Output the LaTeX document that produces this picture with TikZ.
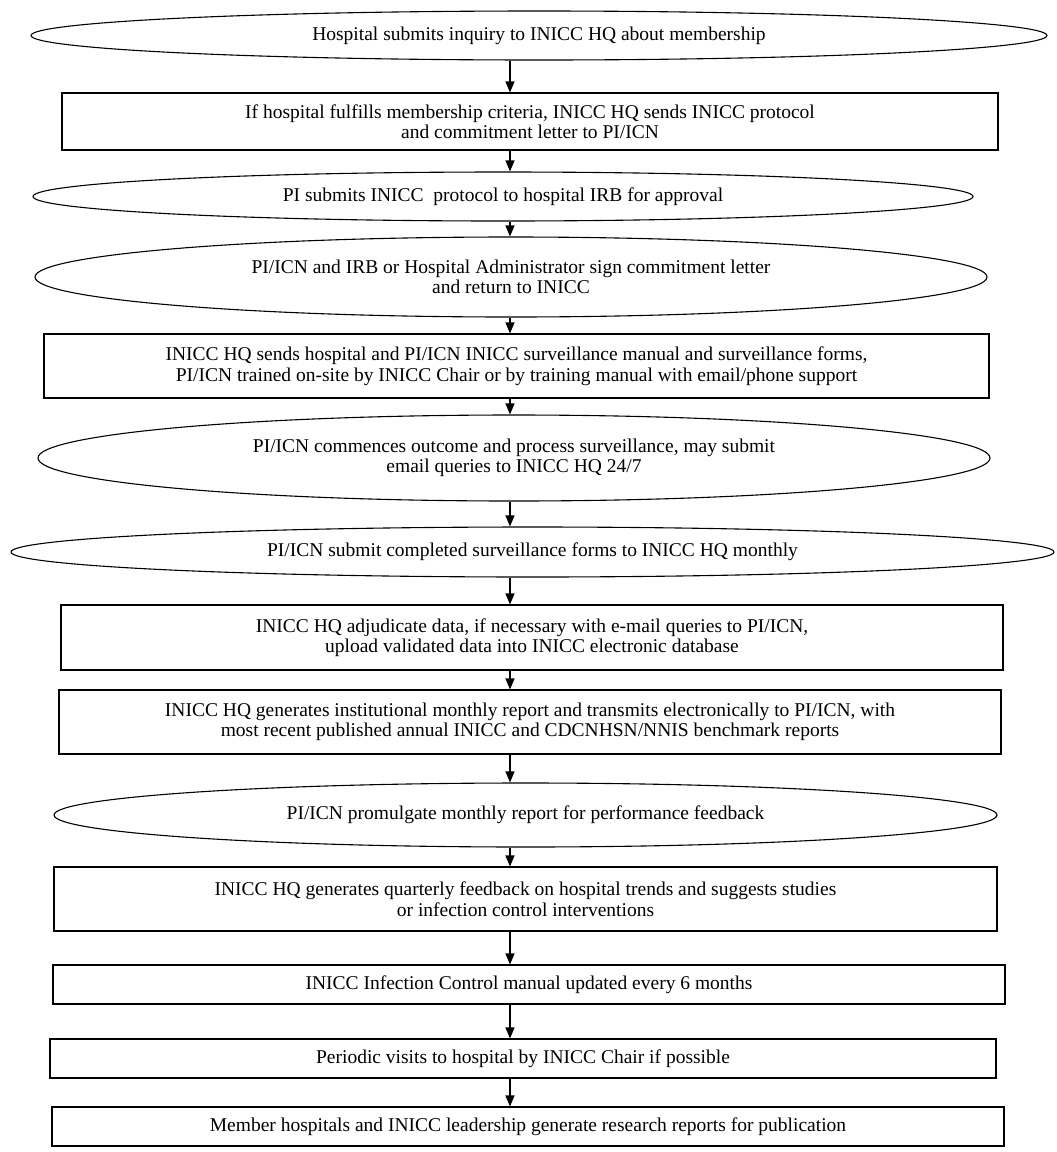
\documentclass[tikz,border=0pt]{standalone}
\usepackage{fontspec}
\setmainfont{Liberation Serif}
\usetikzlibrary{arrows.meta,shapes.geometric}

\tikzset{
  flowbox/.style={draw, rectangle, inner sep=0pt, align=center},
  flowoval/.style={draw, ellipse, inner sep=0pt, align=center},
  flowarrow/.style={-{Triangle[length=11pt,width=9pt]}}
}

\begin{document}
\begin{tikzpicture}[x=1pt, y=-1pt, line width=1.1pt,
  font=\fontsize{19.5}{20.5}\selectfont]
\useasboundingbox (0,0) rectangle (1057,1152);
\coordinate (ax) at (510,0);
\node[flowoval, minimum width=1016pt, minimum height=49pt] (S_1) at (539,35.5) {Hospital submits inquiry to INICC HQ about membership};
\node[flowbox, minimum width=936pt, minimum height=57pt] (S_2) at (530,121.5) {If hospital fulfills membership criteria, INICC HQ sends INICC protocol\\and commitment letter to PI/ICN};
\draw[flowarrow] (S_1.south -| ax) -- (S_2.north -| ax);
\node[flowoval, minimum width=940pt, minimum height=49pt] (S_3) at (503,196.5) {PI submits INICC\ \ protocol to hospital IRB for approval};
\draw[flowarrow] (S_2.south -| ax) -- (S_3.north -| ax);
\node[flowoval, minimum width=952pt, minimum height=80pt] (S_4) at (511,277) {PI/ICN and IRB or Hospital Administrator sign commitment letter\\and return to INICC};
\draw[flowarrow] (S_3.south -| ax) -- (S_4.north -| ax);
\node[flowbox, minimum width=945pt, minimum height=64pt] (S_5) at (516.5,366) {INICC HQ sends hospital and PI/ICN INICC surveillance manual and surveillance forms,\\PI/ICN trained on-site by INICC Chair or by training manual with email/phone support};
\draw[flowarrow] (S_4.south -| ax) -- (S_5.north -| ax);
\node[flowoval, minimum width=952pt, minimum height=86pt] (S_6) at (514,458) {PI/ICN commences outcome and process surveillance, may submit\\email queries to INICC HQ 24/7};
\draw[flowarrow] (S_5.south -| ax) -- (S_6.north -| ax);
\node[flowoval, minimum width=1043pt, minimum height=50pt] (S_7) at (532.5,552) {PI/ICN submit completed surveillance forms to INICC HQ monthly};
\draw[flowarrow] (S_6.south -| ax) -- (S_7.north -| ax);
\node[flowbox, minimum width=942pt, minimum height=65pt] (S_8) at (532,637.5) {INICC HQ adjudicate data, if necessary with e-mail queries to PI/ICN,\\upload validated data into INICC electronic database};
\draw[flowarrow] (S_7.south -| ax) -- (S_8.north -| ax);
\node[flowbox, minimum width=942pt, minimum height=64pt] (S_9) at (530,722) {INICC HQ generates institutional monthly report and transmits electronically to PI/ICN, with\\most recent published annual INICC and CDCNHSN/NNIS benchmark reports};
\draw[flowarrow] (S_8.south -| ax) -- (S_9.north -| ax);
\node[flowoval, minimum width=943pt, minimum height=64pt] (S_10) at (525.5,815) {PI/ICN promulgate monthly report for performance feedback};
\draw[flowarrow] (S_9.south -| ax) -- (S_10.north -| ax);
\node[flowbox, minimum width=943pt, minimum height=64pt] (S_11) at (525.5,899) {INICC HQ generates quarterly feedback on hospital trends and suggests studies\\or infection control interventions};
\draw[flowarrow] (S_10.south -| ax) -- (S_11.north -| ax);
\node[flowbox, minimum width=952pt, minimum height=39pt] (S_12) at (529,984.5) {INICC Infection Control manual updated every 6 months};
\draw[flowarrow] (S_11.south -| ax) -- (S_12.north -| ax);
\node[flowbox, minimum width=946pt, minimum height=39pt] (S_13) at (523,1058.5) {Periodic visits to hospital by INICC Chair if possible};
\draw[flowarrow] (S_12.south -| ax) -- (S_13.north -| ax);
\node[flowbox, minimum width=952pt, minimum height=39pt] (S_14) at (528,1126.5) {Member hospitals and INICC leadership generate research reports for publication};
\draw[flowarrow] (S_13.south -| ax) -- (S_14.north -| ax);
\end{tikzpicture}
\end{document}
